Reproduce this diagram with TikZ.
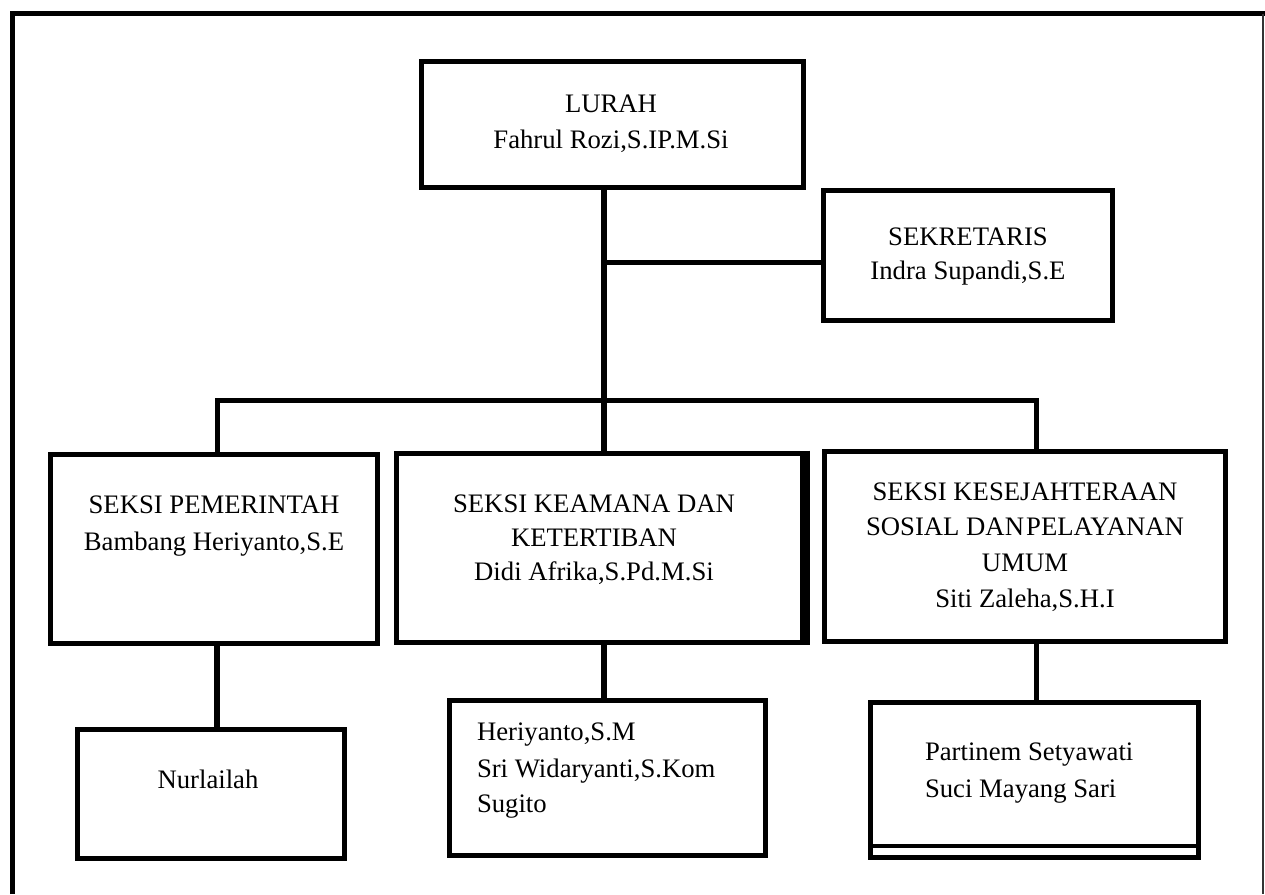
\documentclass[tikz,border=0pt]{standalone}
\usepackage{fontspec}
\setmainfont{Liberation Serif}
\begin{document}
\begin{tikzpicture}[x=1pt,y=-1pt,
  orgbox/.style={draw=black,line width=5pt,inner sep=0pt,outer sep=0pt,rectangle},
  conn/.style={draw=black,line width=5.5pt},
  lbl/.style={inner sep=0pt,outer sep=0pt,anchor=base,font=\fontsize{26.7}{34}\selectfont},
  lblw/.style={lbl,anchor=base west}]
\useasboundingbox (0,0) rectangle (1265,894);
% outer frame
\coordinate (ftl) at (12,13.5);
\coordinate (ftr) at (1265,13.5);
\coordinate (fbl) at (12,894);
\coordinate (frt) at (1263,13.5);
\coordinate (frb) at (1263,894);
\draw[black,line width=5pt] (fbl) -- (ftl) -- (ftr);
\draw[black!80,line width=1.5pt] (frt) -- (frb);
% boxes
\node[orgbox,minimum width=382pt,minimum height=126pt] (lurah) at (612,124) {};
\node[orgbox,minimum width=289pt,minimum height=130pt] (sek) at (967.5,255) {};
\node[orgbox,minimum width=327pt,minimum height=189pt] (pem) at (214,549) {};
\node[orgbox,minimum width=406pt,minimum height=189.5pt] (kea) at (599.5,547.75) {};
\node[orgbox,minimum width=401pt,minimum height=190pt] (kes) at (1025,546) {};
\node[orgbox,minimum width=267pt,minimum height=128.5pt] (nur) at (211,793.75) {};
\node[orgbox,minimum width=316pt,minimum height=155.5pt] (her) at (607.5,777.75) {};
\node[orgbox,minimum width=328pt,minimum height=154.5pt] (par) at (1034.5,779.75) {};
% extra strokes
\draw[black,line width=5pt] ([xshift=5pt,yshift=2.5pt]kea.north east) -- ([xshift=5pt,yshift=-2.5pt]kea.south east);
\coordinate (pl) at (870.5,846);
\draw[black,line width=4.5pt] (pl) -- (pl -| par.east);
% connectors
\coordinate (jsek) at (604,262.5);
\coordinate (bl) at (217,400.5);
\coordinate (br) at (1036.5,400.5);
\draw[conn] (jsek |- lurah.south) -- (jsek |- kea.north);
\draw[conn] (jsek) -- (jsek -| sek.west);
\draw[conn,line width=5pt] (bl |- pem.north) -- (bl) -- (br) -- (br |- kes.north);
\draw[conn] (bl |- pem.south) -- (bl |- nur.north);
\draw[conn] (jsek |- kea.south) -- (jsek |- her.north);
\draw[conn] (br |- kes.south) -- (br |- par.north);
% texts
\node[lbl] (t1a) at (611,112) {LURAH};
\node[lbl] (t1b) at (611,148) {Fahrul Rozi,S.IP.M.Si};
\node[lbl] (t2a) at (968,245) {SEKRETARIS};
\node[lbl] (t2b) at (968,279) {Indra Supandi,S.E};
\node[lbl] (t3a) at (214,513) {SEKSI PEMERINTAH};
\node[lbl] (t3b) at (214,550) {Bambang Heriyanto,S.E};
\node[lbl] (t4a) at (594,512) {SEKSI KEAMANA DAN};
\node[lbl] (t4b) at (594,546) {KETERTIBAN};
\node[lbl] (t4c) at (594,580) {Didi Afrika,S.Pd.M.Si};
\node[lbl] (t5a) at (1025,500) {SEKSI KESEJAHTERAAN};
\node[lbl] (t5b) at (1025,535) {SOSIAL DAN\hspace{0.08em}PELAYANAN};
\node[lbl] (t5c) at (1025,571) {UMUM};
\node[lbl] (t5d) at (1025,607) {Siti Zaleha,S.H.I};
\node[lbl] (t6a) at (208,788) {Nurlailah};
\node[lblw] (t7a) at (477,740) {Heriyanto,S.M};
\node[lblw] (t7b) at (477,777) {Sri Widaryanti,S.Kom};
\node[lblw] (t7c) at (477,812) {Sugito};
\node[lblw] (t8a) at (925,760) {Partinem Setyawati};
\node[lblw] (t8b) at (925,797) {Suci Mayang Sari};
\end{tikzpicture}
\end{document}
